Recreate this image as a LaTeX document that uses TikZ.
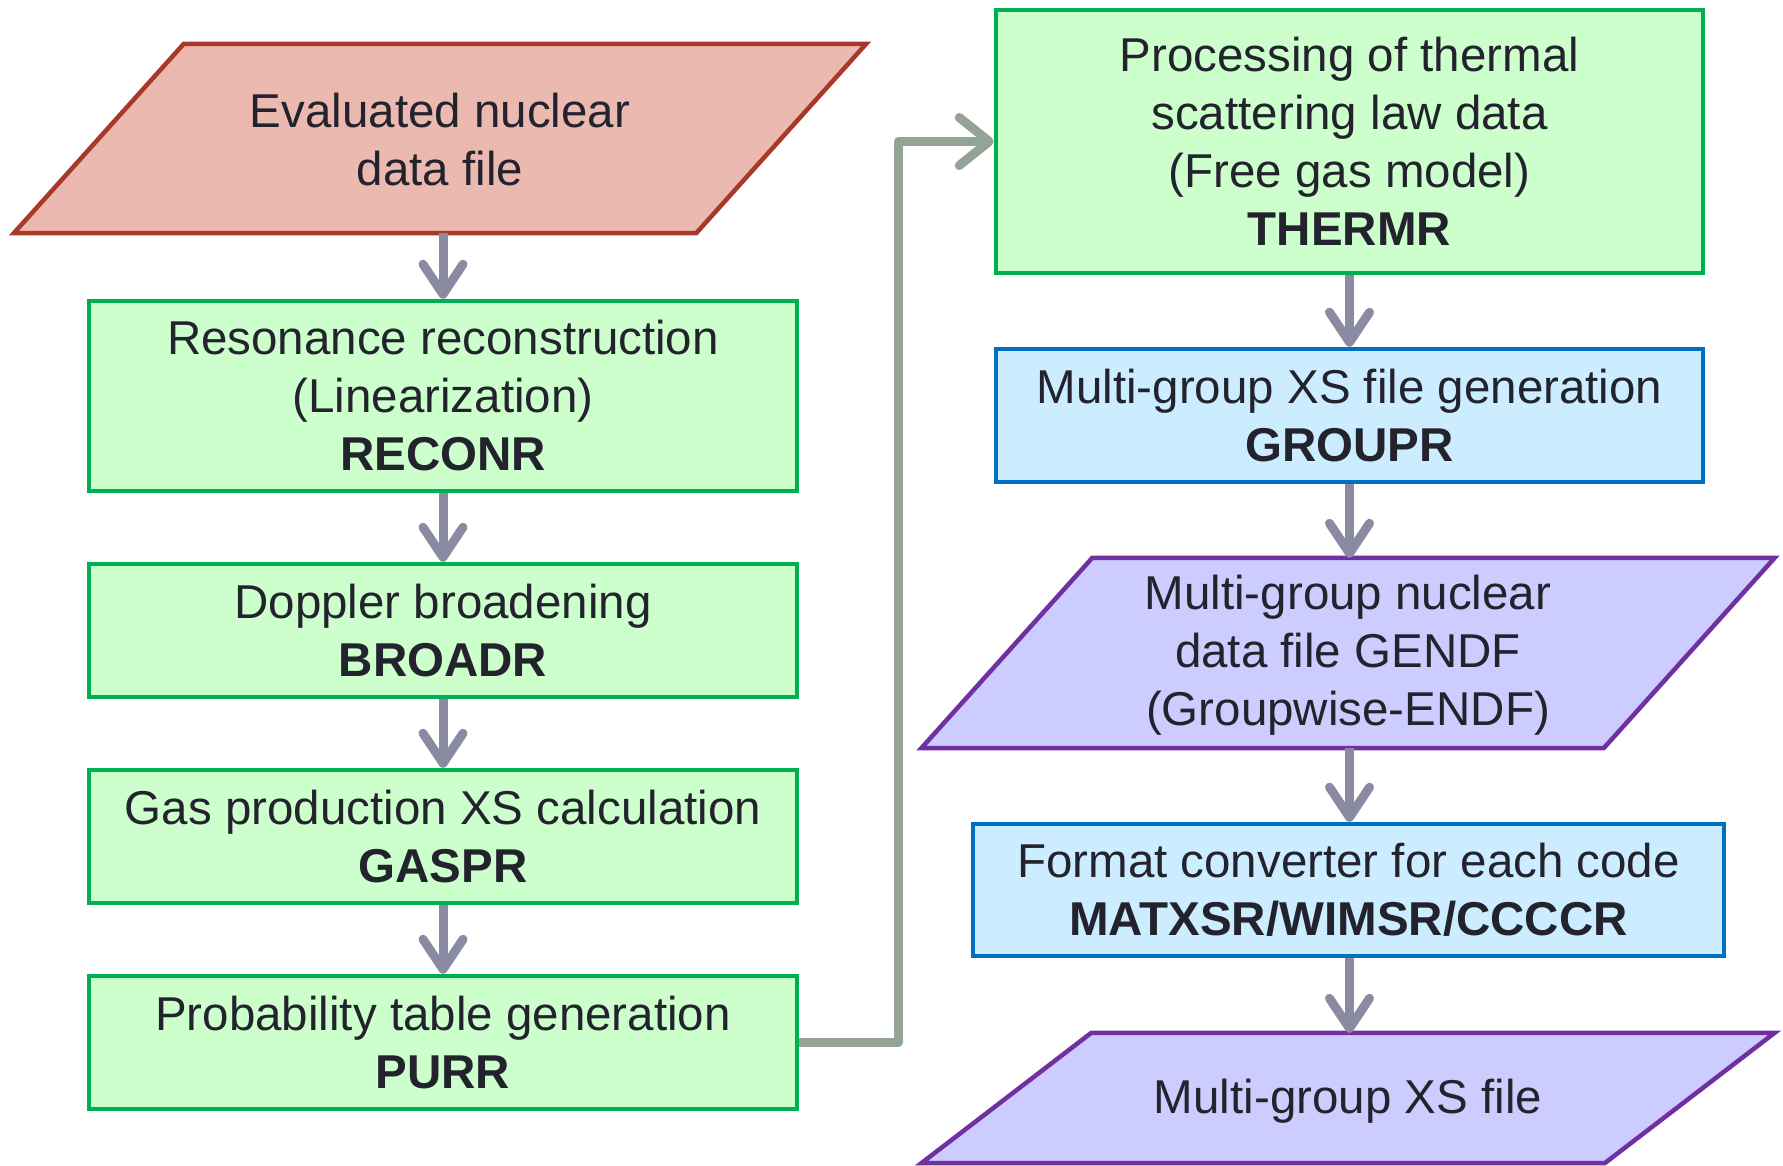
\documentclass[tikz,border=0pt]{standalone}
\usepackage{fontspec}
\setmainfont{Liberation Sans}
\usetikzlibrary{arrows.meta,calc}

\definecolor{txt}{HTML}{23232E}
\definecolor{redfill}{HTML}{EBB9B0}
\definecolor{redline}{HTML}{A8392A}
\definecolor{grnfill}{HTML}{CCFFCC}
\definecolor{grnline}{HTML}{00B050}
\definecolor{blufill}{HTML}{CCECFF}
\definecolor{bluline}{HTML}{0070C0}
\definecolor{purfill}{HTML}{CCCCFF}
\definecolor{purline}{HTML}{7030A0}
\definecolor{flowgray}{HTML}{8A8AA2}
\definecolor{linkgray}{HTML}{93A396}

\tikzset{
  label font/.style={font=\fontsize{47.5}{58}\selectfont, text=txt, align=center},
  procbox/.style={label font, draw, line width=4.5pt, rectangle, inner sep=0pt},
  greenbox/.style={procbox, fill=grnfill, draw=grnline},
  bluebox/.style={procbox, fill=blufill, draw=bluline},
  iobox/.style={label font, rectangle, inner sep=0pt},
  flow/.style={draw=flowgray, line width=9pt,
    -{Straight Barb[length=30pt, width=40pt, line cap=round, line join=round]}},
  link/.style={draw=linkgray, line width=9pt, line join=round,
    -{Straight Barb[length=30pt, width=48pt, line cap=round, line join=round]}}
}

% parallelogram drawn around a borderless node: #1 node, #2 half of the slant,
% #3 fill colour, #4 border colour
\newcommand{\slantbox}[4]{%
  \path[fill=#3, draw=#4, line width=4.5pt, line join=miter]
    ($(#1.north west)+(#2,0)$) -- ($(#1.north east)+(#2,0)$) --
    ($(#1.south east)+(-#2,0)$) -- ($(#1.south west)+(-#2,0)$) -- cycle;}

\begin{document}
\begin{tikzpicture}[x=1pt, y=-1pt]
\useasboundingbox (0,0) rectangle (1783,1166);

% ---- left column ----
\node[iobox, minimum width=682pt, minimum height=189pt] (endf) at (440,138.5) {};
\slantbox{endf}{85}{redfill}{redline}
\node[label font] at ($(endf.center)+(0,1.5)$) {Evaluated nuclear\\data file};

\node[greenbox, minimum width=708pt, minimum height=190pt] (reconr) at (443,396)
  {Resonance reconstruction\\(Linearization)\\\textbf{RECONR}};
\node[greenbox, minimum width=708pt, minimum height=133pt] (broadr) at (443,630.5)
  {Doppler broadening\\\textbf{BROADR}};
\node[greenbox, minimum width=708pt, minimum height=133pt] (gaspr) at (443,836.5)
  {Gas production XS calculation\\\textbf{GASPR}};
\node[greenbox, minimum width=708pt, minimum height=133pt] (purr) at (443,1042.5)
  {Probability table generation\\\textbf{PURR}};

% ---- right column ----
\node[greenbox, minimum width=707pt, minimum height=263pt] (thermr) at (1349.5,141.5)
  {Processing of thermal\\scattering law data\\(Free gas model)\\\textbf{THERMR}};
\node[bluebox, minimum width=707pt, minimum height=133pt] (groupr) at (1349.5,415.5)
  {Multi-group XS file generation\\\textbf{GROUPR}};

\node[iobox, minimum width=682pt, minimum height=190pt] (gendf) at (1348,653) {};
\slantbox{gendf}{85.5}{purfill}{purline}
\node[label font] at ($(gendf.center)+(0,2)$) {Multi-group nuclear\\data file GENDF\\(Groupwise-ENDF)};

\node[bluebox, minimum width=751pt, minimum height=132pt] (convert) at (1348.5,890)
  {Format converter for each code\\\textbf{MATXSR/WIMSR/CCCCR}};

\node[iobox, minimum width=683pt, minimum height=130pt] (xsfile) at (1348,1098) {};
\slantbox{xsfile}{85}{purfill}{purline}
\node[label font] at ($(xsfile.center)+(0,3)$) {Multi-group XS file};

% ---- connectors ----
\draw[flow] (endf.south -| reconr) -- (reconr.north);
\draw[flow] (reconr.south) -- (broadr.north);
\draw[flow] (broadr.south) -- (gaspr.north);
\draw[flow] (gaspr.south) -- (purr.north);

\draw[flow] (thermr.south) -- (groupr.north);
\draw[flow] (groupr.south) -- (gendf.north -| groupr);
\draw[flow] (gendf.south -| groupr) -- (convert.north -| groupr);
\draw[flow] (convert.south -| groupr) -- (xsfile.north -| groupr);

\coordinate (riser) at (898,0);
\draw[link] (purr.east) -- (purr.east -| riser) |- (thermr.west);
\end{tikzpicture}
\end{document}
